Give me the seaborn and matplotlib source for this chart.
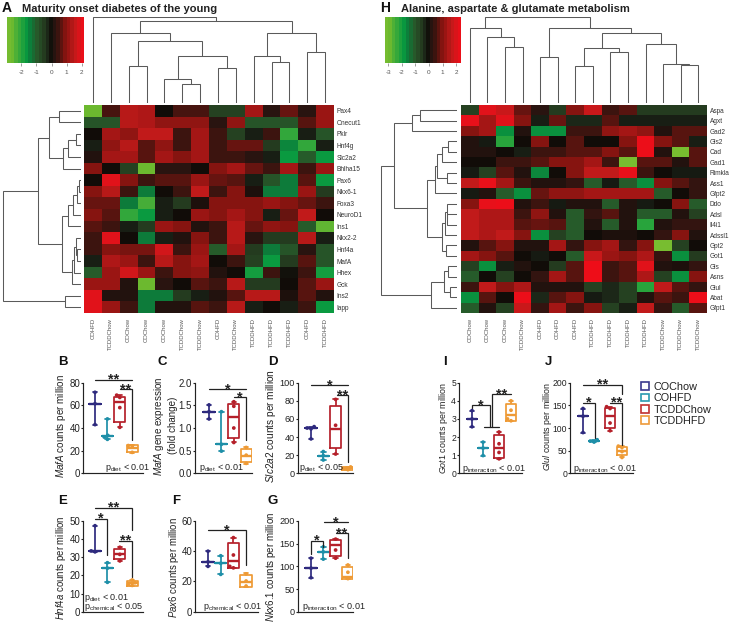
import warnings
import numpy as np
import pandas as pd
import matplotlib
matplotlib.use("Agg")
import matplotlib.pyplot as plt
from matplotlib.colors import LinearSegmentedColormap
from matplotlib.patches import Patch
import seaborn as sns

warnings.filterwarnings("ignore")
sns.set_style("white")
plt.rcParams.update({
    "font.family": ["Liberation Sans", "DejaVu Sans"],
    "mathtext.fontset": "custom",
    "mathtext.rm": "Liberation Sans",
    "mathtext.it": "Liberation Sans:italic",
    "mathtext.bf": "Liberation Sans:bold",
    "mathtext.default": "regular",
})

W, H = 730, 624
fig = plt.figure(figsize=(W / 100, H / 100), dpi=100, facecolor="white")


def px_axes(x0, y0, x1, y1):
    return fig.add_axes([x0 / W, 1 - y1 / H, (x1 - x0) / W, (y1 - y0) / H])


def ptext(x, y, s, **kw):
    fig.text(x / W, 1 - y / H, s, **kw)


# ---------- heatmap data ----------
a_rows = ["Pax4", "Onecut1", "Pklr", "Hnf4g", "Slc2a2", "Bhlha15", "Pax6", "Nkx6-1", "Foxa3",
          "NeuroD1", "Ins1", "Nkx2-2", "Hnf4a", "MafA", "Hhex", "Gck", "Ins2", "Iapp"]
a_cols = ["COHFD", "TCDDChow", "COChow", "COChow", "COChow", "TCDDChow", "TCDDChow", "COHFD",
          "TCDDChow", "TCDDHFD", "TCDDHFD", "TCDDHFD", "COHFD", "TCDDHFD"]
a_values = [
    [-2.6, .5, 1.4, 1.3, 0, .5, .5, -.6, -.6, 1.2, .2, .7, .2, 1.1],
    [-.9, -.9, 1.4, 1.3, 1, 1, 1, .2, 1, -.9, -.9, -.9, .6, 1.1],
    [0, 1.2, 1, 1.5, 1.5, .4, 1.2, .4, -.6, -.2, .4, -2.1, -.2, -.9],
    [-.2, 1, 1.4, .6, 1, .4, 1.2, .4, .7, .7, -.5, -1.5, -2.1, -.2],
    [.15, 1.2, 1.2, .6, 1.2, .9, 1.2, .4, .4, .2, -.2, -1.7, -1, -1.7],
    [.9, 0, -.6, -2.6, .2, .2, 0, .9, 1.2, .7, .4, 1.2, .4, 1.1],
    [0, 1.9, .9, .4, .6, .6, 1.1, .7, .6, -.2, -.9, -1.4, .6, -1.7],
    [.9, 1.4, .4, -1.4, 0, .4, 1.5, .4, .9, .1, -1.4, -1.4, 1.1, -.5],
    [.7, .7, -1.4, -2.3, -.2, -.5, .1, .9, .9, .9, 1.1, .9, .7, .4],
    [.9, .6, -2.1, -1.7, -.2, 0, 1.1, .9, 1.2, .9, -.2, .7, 1.5, 0],
    [.6, .4, -.2, -.5, 1.1, .9, .15, .4, 1.4, .7, 1, .9, -1, -2.5],
    [.4, 1.9, 0, -1.4, -.2, .15, .9, .4, 1.4, .2, -.5, -.5, 1.4, -.2],
    [.4, .9, .8, .8, 1.7, .4, 1.1, -1, 1.2, -.5, -1.4, -.9, .2, -.9],
    [-.2, 1.3, 1.1, .4, 1.4, .9, 1.2, 0, .4, -.6, -1.7, -.5, .6, -.9],
    [-1, 1.1, 1.7, 1.1, .4, .9, 1, .15, 0, -1.8, .4, -.05, .4, -1.8],
    [1.1, 1.1, .15, -2.6, .2, 0, .6, .4, 1.4, -.5, -.5, 0, .6, 1.1],
    [1.9, .15, .15, -1.4, -1.4, -.5, -.2, .15, .6, 1.4, 1.4, .1, .6, .15],
    [1.9, 1.1, .4, -1.4, .15, .15, .6, .4, 1.4, -.2, 0, -.2, .4, -1.7],
]
h_rows = ["Aspa", "Agxt", "Gad2", "Gls2", "Cad", "Gad1", "Rimkla", "Ass1", "Gfpt2", "Ddo", "Adsl",
          "Il4i1", "Adssl1", "Gpt2", "Got1", "Gls", "Asns", "Glul", "Abat", "Gfpt1"]
h_cols = ["COChow", "COChow", "COChow", "TCDDChow", "COHFD", "COHFD", "COHFD", "TCDDHFD", "TCDDHFD",
          "TCDDHFD", "TCDDHFD", "TCDDChow", "TCDDChow", "TCDDChow"]
h_values = [
    [-.6, 1.9, 1.6, .7, .2, -.5, .9, 1.6, .4, .6, -.5, -.5, -.5, -.5],
    [2, 1.2, 1.9, .9, -.2, .7, -.3, -.3, .6, -.2, -.2, -.2, -.2, -.2],
    [.9, 1.2, -1.6, .15, -1.6, -1.6, .4, .4, 1, 1.2, 1, .15, .6, .6],
    [.15, -.15, -2, 0, .9, 0, .6, 0, 0, .9, 2.1, .9, .6, -.2],
    [.15, .15, 0, -.2, .4, .4, .6, .6, .9, .6, 2.1, .15, -3, .6],
    [0, 0, .4, .4, .6, .9, .9, 1.2, .4, -3, .6, .6, .15, .6],
    [-.15, -.6, .6, .15, -1.5, 0, .9, 1.5, 1.5, 2, .4, 0, -.15, -.15],
    [1.5, 2, 1.2, .4, .15, .15, .3, -1, -.15, -1, -1.6, .9, .6, .3],
    [-.15, .15, -1, -1.6, .7, 1, 1, 1.2, 1.2, 1.2, 1.2, -1, 0, .3],
    [.9, 2, 2.1, .15, .4, -.15, .15, .15, -1, .15, -.15, 0, .9, -1],
    [1.5, 1.3, 1.3, .4, 1, .15, -1, .3, .6, .15, -1, -1, .15, -.6],
    [1.5, 1.3, 1.3, .6, .7, .6, -1, .15, -1, .15, -2, .15, .3, .3],
    [1.5, 1.3, 1.5, .9, -1.6, -.6, -1, 0, .1, .1, 0, .3, .9, .15],
    [.15, .6, .9, .15, .15, 1.2, .3, .9, 1.2, .3, .9, -3, -.6, 0],
    [1.2, .9, .6, 0, -.15, 0, -1, 1.6, 1.1, .9, 1.3, .3, -1.6, -.5],
    [-.6, -1.6, -.2, .15, 0, -.5, .6, 2.2, .4, .6, 1.9, .15, .1, .3],
    [-1, 0, -.6, 0, .3, 1.2, .6, 2.2, .4, .6, 1.3, -.6, -1.6, .9],
    [.4, 1.5, .9, 1.3, .15, .15, .15, -.6, -.3, -.6, -2, 1.5, .6, .3],
    [-1.6, .6, 0, 2.1, -.3, .6, .9, -.15, -.3, -.6, .15, .6, .4, 2.1],
    [-1, .15, -.6, 1.6, .3, 1.2, .4, .9, -.6, -.2, 1.5, .3, -1, .6],
]

# dendrograms: (merge height, left child, right child); an int is a leaf
a_top_tree = (260, 0, (248,
    (210, 1, (186, (111, 2, 3), (143, (72, 4, (57, 5, 6)), (105, 7, 8)))),
    (210, (143, 9, (123, 10, 11)), (153, 12, 13))))
a_left_tree = (235,
    (128, (96, (65, 0, 1), (53, (38, (15, 2, 3), 4), 5)),
          (58, (38, (23, (13, (5, 6, 7), 8), 9), 10),
               (28, (21, (15, 11, (11, 12, 13)), 14), 15))),
    (48, 16, 17))
h_top_tree = (260, (225, 0, (198, 1, (168, 2, 3))),
    (225, (140, 4, 5),
          (212, (165, (112, 6, 7), (155, 8, 9)),
                (177, 10, (118, 11, (115, 12, 13))))))
h_left_tree = (230,
    (190, (137, (112, 0, 1), 2),
          (92, (67, (62, (45, (27, 3, 4), 5), (30, 6, 7)), 8),
               (47, (37, (30, 9, (30, 10, 11)), 12), (34, 13, 14)))),
    (80, (39, (27, 15, 16), (22, 17, 18)), 19))

# ---------- box panels: min, q1, median, q3, max of each group, then dots ----------
groups = ["COChow", "COHFD", "TCDDChow", "TCDDHFD"]
group_colors = ["#2e2a7e", "#1e8fa8", "#b5202a", "#ee9a35"]
legend_colors = ["#3b3a8e", "#2a9bb0", "#c0312f", "#ee9a3a"]

b_box = [[43, 61.5, 61.5, 61.5, 71.5], [30, 33, 33, 33, 48], [40.6, 45.6, 62.6, 67.6, 69], [18, 19, 22, 25, 25]]
b_dots = [[43, 61.5, 71.5], [30, 32, 33.5, 48], [40.6, 58, 67, 69], [18.5, 24, 24.5]]
c_box = [[1.2, 1.36, 1.36, 1.36, 1.51], [.49, .64, .64, .64, 1.36], [.68, .79, 1.24, 1.53, 1.58], [.2, .24, .38, .53, .57]]
c_dots = [[1.2, 1.36, 1.51], [.49, .64, 1.36], [.68, 1.0, 1.48, 1.58], [.22, .4, .57]]
d_box = [[38, 49.6, 49.6, 49.6, 51.5], [14.7, 19.5, 19.5, 19.5, 24], [21.3, 27.6, 48.5, 74, 81.6], [3.5, 4, 5.5, 7, 7.5]]
d_dots = [[38, 49, 50, 51.5], [14.7, 19.5, 24], [21.3, 53, 81.6], [4, 5, 7]]
e_box = [[33, 33.5, 33.5, 33.5, 47.4], [16.2, 24, 24, 24, 27], [28, 29, 32, 34.4, 35.5], [14, 14, 16, 17, 17.5]]
e_dots = [[33, 33.5, 47.4], [16.2, 24, 27], [28, 31.6, 35.5], [14.5, 15, 16, 17.5]]
f_box = [[30, 33, 33, 33, 40], [24.7, 32, 32, 32, 37], [29, 29, 33.5, 45.7, 49], [16.5, 16.5, 19.5, 24, 25.4]]
f_dots = [[30, 33, 40], [24.7, 32, 37], [29, 30, 37.5, 49], [17, 20.3, 25]]
g_box = [[75, 96, 96, 96, 118], [116, 132, 132, 132, 143], [118, 123, 146, 158, 160], [72, 72, 77, 98, 103]]
g_dots = [[75, 96, 118], [116, 132, 143], [118, 136, 160], [73, 87, 103]]
i_box = [[2.57, 3, 3, 3, 3.46], [.98, 1.39, 1.39, 1.39, 1.72], [.78, .87, 1.39, 2.09, 2.28], [2.9, 2.9, 3.24, 3.83, 4]]
i_dots = [[2.57, 3, 3.46], [.98, 1.39, 1.72], [.8, 1.15, 1.63, 2.28], [2.9, 3, 3.48, 4]]
j_box = [[90, 126, 126, 126, 143], [69, 71, 71, 71, 74], [94, 100, 126, 144, 147], [35, 41, 50, 57, 60]]
j_dots = [[90, 126, 143], [69, 71, 74], [94, 111, 143, 147], [35, 48, 57, 60]]

# ---------- colormap ----------
V_MIN, V_MAX = -2.95, 2.15
anchors = [(-2.95, "#78bd30"), (-2.6, "#6cb92f"), (-2.3, "#45ad38"), (-1.7, "#099a40"), (-1.4, "#0d7a3a"),
           (-1.0, "#275a2a"), (-.5, "#243a1f"), (-.2, "#181f15"), (0, "#100c08"), (.2, "#281410"),
           (.5, "#45140f"), (.9, "#851410"), (1.2, "#a31615"), (1.5, "#c01a1a"), (2.0, "#e8101a"),
           (2.15, "#ee0d18")]
cmap = LinearSegmentedColormap.from_list(
    "gkr", [((v - V_MIN) / (V_MAX - V_MIN), c) for v, c in anchors])


def draw_tree(ax, node, vertical):
    if isinstance(node, int):
        return node + .5, 0
    h, l, r = node
    pl, hl = draw_tree(ax, l, vertical)
    pr, hr = draw_tree(ax, r, vertical)
    xs, ys = [pl, pl, pr, pr], [hl, h, h, hr]
    if vertical:
        ax.plot(xs, ys, color="#5a5a5a", lw=.75, solid_joinstyle="miter")
    else:
        ax.plot(ys, xs, color="#5a5a5a", lw=.75, solid_joinstyle="miter")
    return (pl + pr) / 2, h


def heat_block(values, rows, cols, top_tree, left_tree, hx0, hx1, left_w, left_x0, cb, cb_lim, cb_ticks):
    ax = px_axes(hx0, 105, hx1, 313)
    df = pd.DataFrame(values, index=rows)
    sns.heatmap(df, ax=ax, cmap=cmap, vmin=V_MIN, vmax=V_MAX, cbar=False,
                xticklabels=cols, yticklabels=rows)
    ax.yaxis.tick_right()
    ax.tick_params(axis="both", length=0)
    ax.tick_params(axis="x", labelrotation=90, labelsize=4.3, labelcolor="#555555", pad=3.5)
    ax.tick_params(axis="y", labelrotation=0, labelsize=4.7, labelcolor="#333333", pad=2)
    t = px_axes(hx0, 16.7, hx1, 103.3)
    draw_tree(t, top_tree, True)
    t.set_xlim(0, len(cols))
    t.set_ylim(0, 260)
    t.axis("off")
    l = px_axes(left_x0, 105, left_x0 + left_w / 3, 313)
    draw_tree(l, left_tree, False)
    l.set_xlim(left_w, 0)
    l.set_ylim(len(rows), 0)
    l.axis("off")
    c = px_axes(cb[0], 17, cb[1], 62.6)
    edges = np.linspace(cb_lim[0], cb_lim[1], 23)
    c.pcolormesh(edges, [0, 1], (np.arange(22)[None, :] + .5) / 22, cmap=cmap, vmin=0, vmax=1)
    c.set_xlim(*cb_lim)
    c.set_yticks([])
    c.set_xticks(cb_ticks)
    c.set_xticklabels([str(v) for v in cb_ticks])
    c.tick_params(axis="x", length=2, width=.5, pad=3.5, labelsize=4.6, labelcolor="#555555",
                  color="#777777", bottom=True)
    for s in c.spines.values():
        s.set_visible(False)


heat_block(a_values, a_rows, a_cols, a_top_tree, a_left_tree, 84, 334, 243, 0,
           (7, 84), (-2.95, 2.15), [-2, -1, 0, 1, 2])
heat_block(h_values, h_rows, h_cols, h_top_tree, h_left_tree, 461, 707, 277, 365,
           (385, 461), (-3.24, 2.35), [-3, -2, -1, 0, 1, 2])


def box_panel(box, dots, ymax, yticks, ticklabels, px, c0, s, ylabel, label_x, letter, letter_xy,
              ptexts, brackets, pos=(0, 1, 2, 3), tick_fs=7.0, label_fs=7.1, label_y=.52):
    x0, y0, x1, y1 = px
    ax = px_axes(x0, y0, x1, y1)
    box_df = pd.DataFrame([(pos[i], groups[i], v) for i in range(4) for v in box[i]],
                          columns=["pos", "group", "value"])
    dot_df = pd.DataFrame([(pos[i], groups[i], v) for i in range(4) for v in dots[i]],
                          columns=["pos", "group", "value"])
    pal = dict(zip(groups, group_colors))
    sns.boxplot(data=box_df, x="pos", y="value", hue="group", hue_order=groups, palette=pal, ax=ax,
                native_scale=True, fill=False, whis=(0, 100), width=.9, dodge=False, showfliers=False,
                linewidth=1.25, legend=False, capwidths=.36, medianprops=dict(linewidth=1.7))
    sns.swarmplot(data=dot_df, x="pos", y="value", hue="group", hue_order=groups, palette=pal, ax=ax,
                  native_scale=True, size=2.7, dodge=False, legend=False, linewidth=0, zorder=5)
    ax.set_xlim((x0 - c0) / s, (x1 - c0) / s)
    ax.set_ylim(0, ymax)
    ax.set_yticks(yticks)
    ax.set_yticklabels(ticklabels)
    ax.set_xticks([])
    ax.set_xlabel("")
    ax.set_ylabel(ylabel, fontsize=label_fs, labelpad=0, linespacing=1.25, color="#222222", va="center")
    ax.yaxis.set_label_coords((label_x - 1 - x0) / (x1 - x0), label_y)
    ax.tick_params(axis="y", length=1.5, width=.8, pad=.6, labelsize=tick_fs, labelcolor="#222222", left=True, color="#222222")
    ax.patch.set_alpha(0)
    for side in ("top", "right"):
        ax.spines[side].set_visible(False)
    for side in ("left", "bottom"):
        ax.spines[side].set_linewidth(.85)
        ax.spines[side].set_color("#222222")
    for b in brackets:
        xa, xb, yy, da, db, star, sx = b
        xs = ([xa] if da is None else [xa, xa]) + ([xb] if db is None else [xb, xb])
        ys = ([] if da is None else [da]) + [yy, yy] + ([] if db is None else [db])
        ax.plot(xs, ys, color="#222222", lw=.9, clip_on=False, solid_joinstyle="miter", zorder=6)
        if star:
            ax.text(sx, yy, star, ha="center", va="center", fontsize=10.5, fontweight="bold",
                    color="#222222", clip_on=False, zorder=7)
    for tx, ty, t in ptexts:
        ptext(tx, ty, t, ha="left", va="center", fontsize=6.5, color="#222222")
    ptext(letter_xy[0], letter_xy[1], letter, ha="left", va="center", fontsize=9.5, fontweight="bold", color="#111111")


Y1, Y2 = (382.7, 473.3), (521, 611.7)

box_panel(b_box, b_dots, 80, [0, 20, 40, 60, 80], ["0", "20", "40", "60", "80"],
          (83, Y1[0], 143, Y1[1]), 95, 12.4, r"$\mathit{MafA}$ counts per million", 62, "B", (58, 362),
          [(105, 468, r"p$_{diet}$ < 0.01")],
          [(0, 3, 82.6, None, None, "**", 1.5), (2.05, 3, 74, None, 29, "**", 2.5)], label_y=.525)
box_panel(c_box, c_dots, 2, [0, .5, 1, 1.5, 2], ["0.0", "0.5", "1.0", "1.5", "2.0"],
          (195, Y1[0], 252, Y1[1]), 209, 12.4, "$\\mathit{MafA}$ gene expression\n(fold change)", 166, "C", (157, 362),
          [(199, 468, r"p$_{diet}$ < 0.01")],
          [(0, 3, 1.85, None, None, "*", 1.5), (2, 3, 1.68, None, .73, "*", 2.5)], label_y=.525)
box_panel(d_box, d_dots, 100, [0, 20, 40, 60, 80, 100], ["0", "20", "40", "60", "80", "100"],
          (298, Y1[0], 353, Y1[1]), 311, 12.3, r"$\mathit{Slc2a2}$ counts per million", 272, "D", (268, 362),
          [(299, 468, r"p$_{diet}$ < 0.05")],
          [(0, 3, 97.4, None, None, "*", 1.5), (2.1, 3, 86.4, None, 12.9, "**", 2.6)],
          tick_fs=6.6, label_fs=7.3, label_y=.525)
box_panel(e_box, e_dots, 50, [0, 10, 20, 30, 40, 50], ["0", "10", "20", "30", "40", "50"],
          (83, Y2[0], 143, Y2[1]), 95, 12.4, r"$\mathit{Hnf4a}$ counts per million", 62, "E", (58, 501),
          [(83.5, 597.5, r"p$_{diet}$ < 0.01"), (83.5, 607, r"p$_{chemical}$ < 0.05")],
          [(0, 3, 57.4, None, 45, "**", 1.5), (0, 1, 51.3, None, 31, "*", .5), (1.9, 3, 39, None, 19.3, "**", 2.45)],
          label_fs=6.9, label_y=.485)
box_panel(f_box, f_dots, 60, [0, 20, 40, 60], ["0", "20", "40", "60"],
          (195, Y2[0], 258, Y2[1]), 208, 12.7, r"$\mathit{Pax6}$ counts per million", 175, "F", (172, 501),
          [(203, 606.7, r"p$_{chemical}$ < 0.01")],
          [(0, 3, 54, None, 31, "*", 1.5)], label_fs=6.9, label_y=.49)
box_panel(g_box, g_dots, 200, [0, 50, 100, 150, 200], ["0", "50", "100", "150", "200"],
          (298, Y2[0], 353, Y2[1]), 311, 12.3, r"$\mathit{Nkx6.1}$ counts per million", 272, "G", (268, 501),
          [(302, 606.7, r"p$_{interaction}$ < 0.01")],
          [(0, 1, 156, 128, 143, "*", .5), (1.05, 3, 197, None, None, "*", 2), (2.05, 3, 173, None, 118, "**", 2.5)],
          tick_fs=6.6, label_fs=7.0, label_y=.49)
box_panel(i_box, i_dots, 5, [0, 1, 2, 3, 4, 5], ["0", "1", "2", "3", "4", "5"],
          (459, Y1[0], 522, Y1[1]), 472, 13, r"$\mathit{Got1}$ counts per million", 445, "I", (443, 362),
          [(462, 469, r"p$_{interaction}$ < 0.01")],
          [(0, 1.4, 3.76, 3.6, 2.54, "*", .7), (.9, 2.08, 2.54, None, None, "", 0), (1.57, 3, 4.35, 2.54, None, "**", 2.25)],
          pos=(0, .85, 2.08, 3), tick_fs=6.2, label_fs=6.4, label_y=.5)
box_panel(j_box, j_dots, 200, [0, 50, 100, 150, 200], ["0", "50", "100", "150", "200"],
          (570, Y1[0], 633, Y1[1]), 583, 13, r"$\mathit{Glul}$ counts per million", 548, "J", (545, 362),
          [(573, 469, r"p$_{interaction}$ < 0.01")],
          [(0, 3, 195, None, 174, "**", 1.5), (0, .9, 155.5, None, 78, "*", .45), (2.08, 3, 155.5, None, 63, "**", 2.55)],
          pos=(0, .85, 2.08, 3), tick_fs=6.2, label_fs=6.4, label_y=.52)

# ---------- titles and legend ----------
ptext(2, 8.5, "A", fontsize=10, fontweight="bold", va="center", color="#111111")
ptext(22, 8.5, "Maturity onset diabetes of the young", fontsize=8, fontweight="bold", va="center", color="#222222")
ptext(380, 8, "H", fontsize=10, fontweight="bold", va="center", color="#111111")
ptext(401, 8.5, "Alanine, aspartate & glutamate metabolism", fontsize=8, fontweight="bold", va="center", color="#222222")

handles = [Patch(facecolor="none", edgecolor=c, linewidth=1.2, label=g) for g, c in zip(groups, legend_colors)]
fig.legend(handles=handles, loc="upper left", bbox_to_anchor=(641 / W, 1 - 382 / H), frameon=False,
           fontsize=7.8, handlelength=.7, handleheight=.7, handletextpad=.5, labelspacing=.12,
           borderpad=0, borderaxespad=0, labelcolor="#222222")

fig.savefig("out.png", dpi=100, facecolor="white")
